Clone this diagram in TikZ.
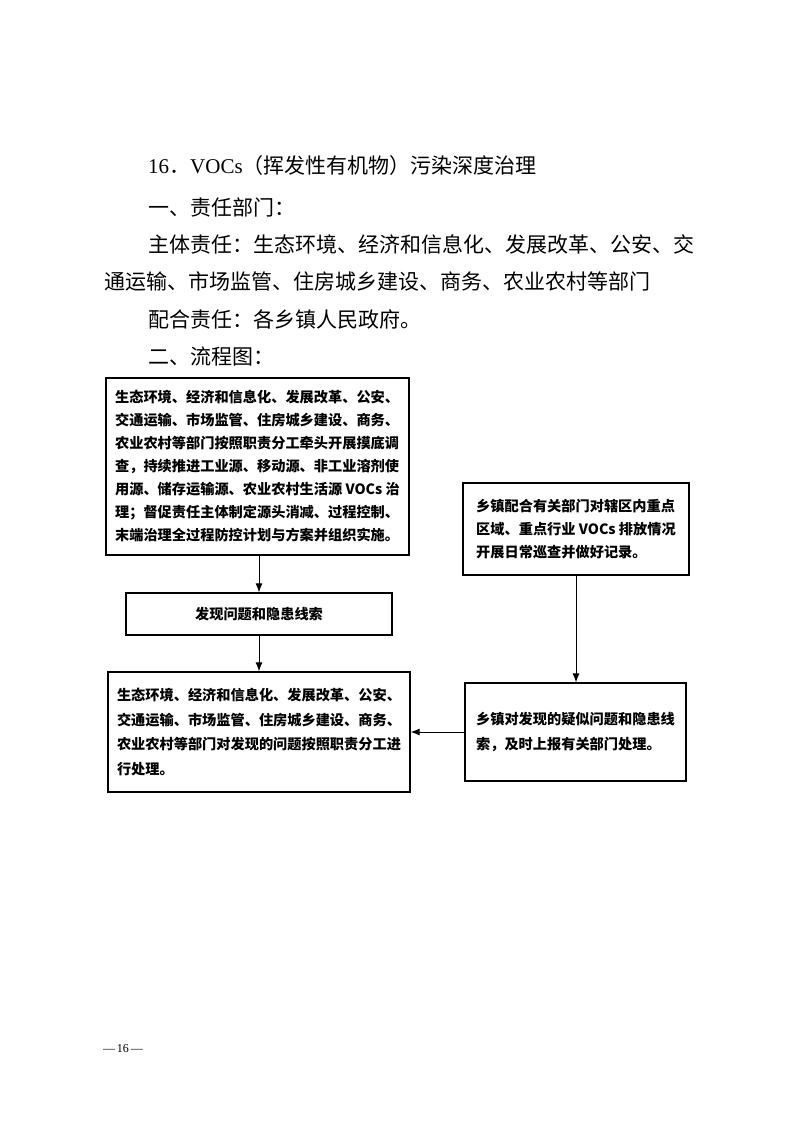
\documentclass[tikz,border=0pt]{standalone}
\usepackage{fontspec}
\setmainfont{Liberation Serif}
\newfontfamily\cjk{Noto Sans CJK SC}
\usetikzlibrary{arrows.meta}
\newcommand{\ltn}[1]{{\rmfamily #1}}
\begin{document}
\begin{tikzpicture}[x=1pt,y=-1pt,
  body/.style={anchor=base west, inner sep=0pt, font=\cjk\fontsize{21}{21}\selectfont},
  boxed/.style={draw, line width=1.2pt, inner sep=0pt, align=left,
    font=\cjk\bfseries\fontsize{14.2}{24.5}\selectfont},
  arr/.style={-{Latex[length=9pt,width=7pt]}, line width=1pt}]
\fill[white] (0,0) rectangle (793,1122);
\useasboundingbox (0,0) rectangle (793,1122);

\node[body] (title) at (148,173) {\ltn{16}．\ltn{VOCs}（挥发性有机物）污染深度治理};
\node[body] (l1) at (148,215) {一、责任部门：};
\node[body] (l2) at (148,252) {主体责任：生态环境、经济和信息化、发展改革、公安、交};
\node[body] (l3) at (104,289) {通运输、市场监管、住房城乡建设、商务、农业农村等部门};
\node[body] (l4) at (148,327) {配合责任：各乡镇人民政府。};
\node[body] (l5) at (148,364) {二、流程图：};

\node[boxed, minimum width=303pt, minimum height=177pt,
  font=\cjk\bfseries\fontsize{14.2}{23}\selectfont] (A) at (257.5,466.5)
{生态环境、经济和信息化、发展改革、公安、\\
交通运输、市场监管、住房城乡建设、商务、\\
农业农村等部门按照职责分工牵头开展摸底调\\
查，持续推进工业源、移动源、非工业溶剂使\\
用源、储存运输源、农业农村生活源~VOCs~治\\
理；督促责任主体制定源头消减、过程控制、\\
末端治理全过程防控计划与方案并组织实施。};

\node[boxed, minimum width=226pt, minimum height=92pt,
  font=\cjk\bfseries\fontsize{14.2}{23}\selectfont] (B) at (576,529)
{乡镇配合有关部门对辖区内重点\\
区域、重点行业~VOCs~排放情况\\
开展日常巡查并做好记录。};

\node[boxed, minimum width=266pt, minimum height=42pt, align=center] (F) at (259,614)
{发现问题和隐患线索};

\node[boxed, minimum width=302pt, minimum height=120pt] (C) at (259,732)
{生态环境、经济和信息化、发展改革、公安、\\
交通运输、市场监管、住房城乡建设、商务、\\
农业农村等部门对发现的问题按照职责分工进\\
行处理。};

\node[boxed, minimum width=221pt, minimum height=98pt] (D) at (575.5,732)
{乡镇对发现的疑似问题和隐患线\\
索，及时上报有关部门处理。\hphantom{一}};

\draw[arr] (A.south -| F.north) -- (F.north);
\draw[arr] (F.south) -- (C.north -| F.south);
\draw[arr] (B.south) -- (D.north -| B.south);
\draw[arr] (D.west) -- (D.west -| C.east);

\node[anchor=base, inner sep=0pt, font=\fontsize{12}{12}\selectfont] (pg) at (123,1052) {—\,16\,—};
\end{tikzpicture}
\end{document}
